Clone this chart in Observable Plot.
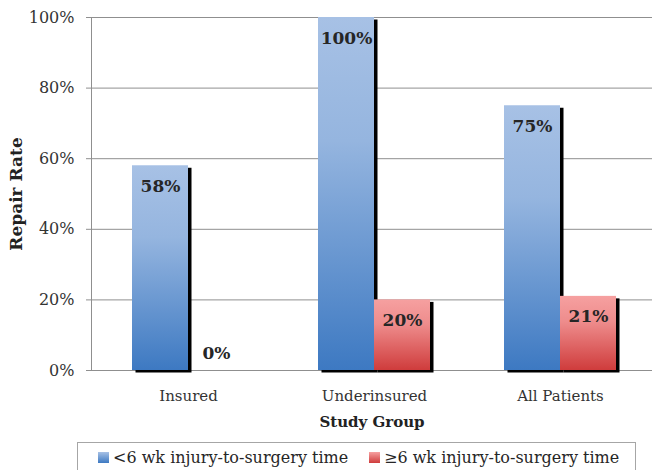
<!DOCTYPE html>
<html>
<head>
<meta charset="utf-8">
<script src="https://cdn.jsdelivr.net/npm/d3@7"></script>
<script src="https://cdn.jsdelivr.net/npm/@observablehq/plot@0.6"></script>
<style>
  html, body { margin: 0; padding: 0; background: #fff; }
  body { width: 652px; height: 470px; position: relative; overflow: hidden; font-family: "DejaVu Serif", serif; }
  #chart svg { display: block; }
  g[aria-label="y-axis label"] text, g[aria-label="x-axis label"] text { font-weight: bold; fill: #222; }
  g[aria-label="y-axis label"] text { font-size: 17px; }
  .legend { position: absolute; left: 77px; top: 442px; width: 559px; height: 40px; box-sizing: border-box;
            border: 1px solid #a6a6a6; font-size: 16px; color: #262626; }
  .legend .item { position: absolute; top: 5px; display: flex; align-items: center; white-space: nowrap; }
  .legend .sw { width: 11px; height: 11px; margin-right: 4px; }
</style>
</head>
<body>
<div id="chart"></div>
<div class="legend" id="legend"></div>
<script>
// ---- data ----
const groups = ["Insured", "Underinsured", "All Patients"];
const seriesNames = ["<6 wk injury-to-surgery time", "≥6 wk injury-to-surgery time"];
const under6wk = [58, 100, 75];
const over6wk = [0, 20, 21];
const yTicks = [0, 20, 40, 60, 80, 100];
const seriesColors = [["#a7c1e5", "#95b5df", "#3d79c2"], ["#f6a0a0", "#ee8c8c", "#cf3c3c"]];

const rows = [];
groups.forEach((g, i) => {
  rows.push({group: g, series: seriesNames[0], s: 0, value: under6wk[i]});
  rows.push({group: g, series: seriesNames[1], s: 1, value: over6wk[i]});
});
const blue = rows.filter(d => d.s === 0);
const red = rows.filter(d => d.s === 1);

const half = 56;

const defs = () => {
  const d = d3.create("svg:defs");
  seriesColors.forEach((c, i) => {
    const lg = d.append("linearGradient").attr("id", "grad" + i)
      .attr("x1", 0).attr("y1", 0).attr("x2", 0).attr("y2", 1);
    lg.append("stop").attr("offset", "0%").attr("stop-color", c[0]);
    lg.append("stop").attr("offset", "35%").attr("stop-color", c[1]);
    lg.append("stop").attr("offset", "100%").attr("stop-color", c[2]);
  });
  return d.node();
};

const chart = Plot.plot({
  width: 652,
  height: 436,
  marginLeft: 91,
  marginRight: 0,
  marginTop: 17,
  marginBottom: 66,
  style: {fontFamily: "DejaVu Serif, serif", fontSize: "15px", color: "#333", background: "#fff"},
  x: {domain: groups, range: [91, 657], paddingInner: 0.4, paddingOuter: 0.214},
  y: {domain: [0, 100]},
  marks: [
    defs,
    Plot.gridY(yTicks, {stroke: "#8f8f8f", strokeOpacity: 1}),
    Plot.frame({anchor: "left", stroke: "#8f8f8f"}),
    Plot.axisY(yTicks, {tickFormat: d => d + "%", tickSize: 5, tickPadding: 12, stroke: "#8f8f8f",
      fill: "#333", fontSize: 16, label: "Repair Rate", labelArrow: "none", labelAnchor: "center", labelOffset: 82}),
    Plot.axisX({tickSize: 0, tickPadding: 20, fill: "#333", fontSize: 15,
      label: "Study Group", labelArrow: "none", labelAnchor: "center", labelOffset: 56}),
    // shadows
    Plot.barY(blue, {x: "group", y: "value", insetRight: half, fill: "#000", dx: 3.5, dy: 2.5}),
    Plot.barY(red, {x: "group", y: "value", insetLeft: half, fill: "#000", dx: 3.5, dy: 2.5}),
    // bars
    Plot.barY(blue, {x: "group", y: "value", insetRight: half, fill: "url(#grad0)"}),
    Plot.barY(red, {x: "group", y: "value", insetLeft: half, fill: "url(#grad1)"}),
    // labels
    Plot.text(blue.filter(d => d.value > 0), {x: "group", y: "value", text: d => d.value + "%", dx: -half / 2,
      lineAnchor: "top", dy: 14, fontWeight: "bold", fontSize: 17, fill: "#262626"}),
    Plot.text(red.filter(d => d.value > 0), {x: "group", y: "value", text: d => d.value + "%", dx: half / 2,
      lineAnchor: "top", dy: 14, fontWeight: "bold", fontSize: 17, fill: "#262626"}),
    Plot.text(red.filter(d => d.value === 0), {x: "group", y: "value", text: d => d.value + "%", dx: half / 2,
      lineAnchor: "bottom", dy: -12, fontWeight: "bold", fontSize: 17, fill: "#262626"})
  ]
});
document.getElementById("chart").appendChild(chart);

// legend
const legend = document.getElementById("legend");
const lefts = [20, 291];
seriesNames.forEach((name, i) => {
  const it = document.createElement("div");
  it.className = "item";
  it.style.left = lefts[i] + "px";
  const sw = document.createElement("span");
  sw.className = "sw";
  sw.style.background = `linear-gradient(${seriesColors[i][0]}, ${seriesColors[i][2]})`;
  const tx = document.createElement("span");
  tx.textContent = name;
  it.appendChild(sw);
  it.appendChild(tx);
  legend.appendChild(it);
});
</script>
</body>
</html>
